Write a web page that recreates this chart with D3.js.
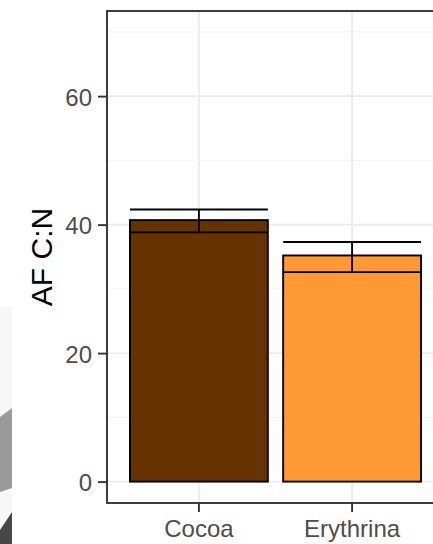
<!DOCTYPE html>
<html>
<head>
<meta charset="utf-8">
<script src="https://cdn.jsdelivr.net/npm/d3@7"></script>
<style>
  html, body { margin: 0; padding: 0; background: #ffffff; }
  svg { display: block; }
  text { font-family: "Liberation Sans", Arial, sans-serif; }
</style>
</head>
<body>
<div id="chart"></div>
<script>
// Shade tree categories and their mean AF C:N with error bar bounds
const categories = ["Cocoa", "Erythrina"];
const meanCN = [40.7, 35.2];
const lowerCN = [38.8, 32.6];
const upperCN = [42.35, 37.3];
const fillColors = ["#663300", "#FF9933"];
const yTicks = [0, 20, 40, 60];
const yMinorTicks = [10, 30, 50, 70];
const yLabel = "AF C:N";

const width = 433, height = 544;
const panel = { left: 107, top: 11, right: 444, bottom: 503 };

const svg = d3.select("#chart").append("svg")
  .attr("width", width)
  .attr("height", height);

// Edge of a neighbouring panel at the left margin
const edge = svg.append("g");
edge.append("rect").attr("x", 0).attr("y", 307).attr("width", 12).attr("height", 237).attr("fill", "#f7f7f7");
edge.append("polygon").attr("points", "0,417 12,408 12,488 0,492").attr("fill", "#9a9a9a");
edge.append("polygon").attr("points", "0,530 12,512 12,544 0,544").attr("fill", "#474747");

const x = d3.scaleBand()
  .domain(categories)
  .range([panel.left, panel.right])
  .paddingInner(0.1)
  .paddingOuter(0.15);

const y = d3.scaleLinear()
  .domain([-3.33, 73.25])
  .range([panel.bottom, panel.top]);

const data = categories.map((c, i) => ({
  cat: c, mean: meanCN[i], lo: lowerCN[i], hi: upperCN[i], fill: fillColors[i]
}));

// Grid
const grid = svg.append("g");
grid.selectAll("line.minor").data(yMinorTicks).join("line")
  .attr("x1", panel.left).attr("x2", panel.right)
  .attr("y1", d => y(d)).attr("y2", d => y(d))
  .attr("stroke", "#f3f3f3").attr("stroke-width", 1);
grid.selectAll("line.major").data(yTicks).join("line")
  .attr("x1", panel.left).attr("x2", panel.right)
  .attr("y1", d => y(d)).attr("y2", d => y(d))
  .attr("stroke", "#ebebeb").attr("stroke-width", 1.8);
grid.selectAll("line.vmajor").data(categories).join("line")
  .attr("x1", d => x(d) + x.bandwidth() / 2).attr("x2", d => x(d) + x.bandwidth() / 2)
  .attr("y1", panel.top).attr("y2", panel.bottom)
  .attr("stroke", "#ebebeb").attr("stroke-width", 1.8);

// Bars
svg.append("g").selectAll("rect").data(data).join("rect")
  .attr("x", d => x(d.cat))
  .attr("y", d => y(d.mean))
  .attr("width", x.bandwidth())
  .attr("height", d => y(0) - y(d.mean))
  .attr("fill", d => d.fill)
  .attr("stroke", "#000000")
  .attr("stroke-width", 1.9);

// Error bars
const eb = svg.append("g").attr("stroke", "#000000").attr("stroke-width", 1.9);
data.forEach(d => {
  const x0 = x(d.cat), x1 = x0 + x.bandwidth(), xc = x0 + x.bandwidth() / 2;
  eb.append("line").attr("x1", x0).attr("x2", x1).attr("y1", y(d.hi)).attr("y2", y(d.hi));
  eb.append("line").attr("x1", x0).attr("x2", x1).attr("y1", y(d.lo)).attr("y2", y(d.lo));
  eb.append("line").attr("x1", xc).attr("x2", xc).attr("y1", y(d.hi)).attr("y2", y(d.lo));
});

// Panel border
svg.append("rect")
  .attr("x", panel.left).attr("y", panel.top)
  .attr("width", panel.right - panel.left).attr("height", panel.bottom - panel.top)
  .attr("fill", "none").attr("stroke", "#333333").attr("stroke-width", 1.9);

// Y axis
const yAxis = svg.append("g")
  .attr("transform", `translate(${panel.left},0)`)
  .call(d3.axisLeft(y).tickValues(yTicks).tickSize(9).tickPadding(6).tickFormat(d3.format("d")));
yAxis.select(".domain").remove();
yAxis.selectAll(".tick line").attr("stroke", "#333333").attr("stroke-width", 1.9);
yAxis.selectAll(".tick text")
  .attr("fill", "#4D4D4D").attr("font-size", 24)
  .attr("font-family", "'Liberation Sans', Arial, sans-serif")
  .attr("dy", "0.38em");

// X axis
const xAxis = svg.append("g")
  .attr("transform", `translate(0,${panel.bottom})`)
  .call(d3.axisBottom(x).tickSize(9).tickPadding(8));
xAxis.select(".domain").remove();
xAxis.selectAll(".tick line").attr("stroke", "#333333").attr("stroke-width", 1.9);
xAxis.selectAll(".tick text")
  .attr("fill", "#4D4D4D").attr("font-size", 24)
  .attr("font-family", "'Liberation Sans', Arial, sans-serif");

// Y axis title
svg.append("text")
  .attr("transform", `translate(52,${(panel.top + panel.bottom) / 2}) rotate(-90)`)
  .attr("text-anchor", "middle")
  .attr("font-size", 30)
  .attr("fill", "#000000")
  .text(yLabel);
</script>
</body>
</html>
